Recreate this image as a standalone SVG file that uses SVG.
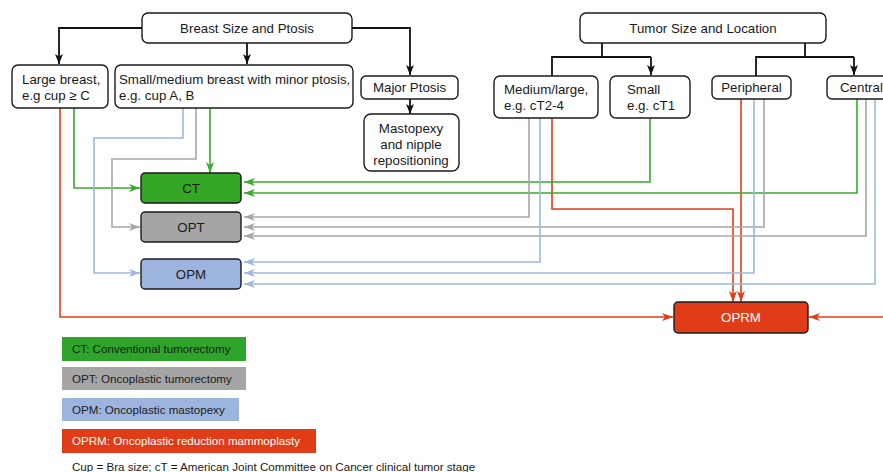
<svg xmlns="http://www.w3.org/2000/svg" width="883" height="472" viewBox="0 0 883 472">
<style>
.box{fill:#fff;stroke:#1a1a1a;stroke-width:1.4}
.t{font-family:"Liberation Sans",Arial,sans-serif;font-size:13.3px;fill:#1a1a1a}
.c{text-anchor:middle}
.lg{font-family:"Liberation Sans",Arial,sans-serif;font-size:11.6px;fill:#1a1a1a}
.k{fill:none;stroke:#111;stroke-width:1.8}
.g{fill:none;stroke:#3aaa2c;stroke-width:1.6}
.y{fill:none;stroke:#a6a6a6;stroke-width:1.6}
.b{fill:none;stroke:#9db8e0;stroke-width:1.6}
.r{fill:none;stroke:#e03c17;stroke-width:1.6}
</style>
<defs>
<marker id="ak" markerUnits="userSpaceOnUse" markerWidth="10" markerHeight="10" viewBox="0 0 10 10" refX="10" refY="5" orient="auto"><path d="M0,1 L10,5 L0,9 L2.5,5 z" fill="#111"/></marker>
<marker id="ag" markerUnits="userSpaceOnUse" markerWidth="11" markerHeight="10" viewBox="0 0 11 10" refX="11" refY="5" orient="auto"><path d="M0,1 L11,5 L0,9 L3,5 z" fill="#3aaa2c"/></marker>
<marker id="ay" markerUnits="userSpaceOnUse" markerWidth="11" markerHeight="10" viewBox="0 0 11 10" refX="11" refY="5" orient="auto"><path d="M0,1 L11,5 L0,9 L3,5 z" fill="#a6a6a6"/></marker>
<marker id="ab" markerUnits="userSpaceOnUse" markerWidth="11" markerHeight="10" viewBox="0 0 11 10" refX="11" refY="5" orient="auto"><path d="M0,1 L11,5 L0,9 L3,5 z" fill="#9db8e0"/></marker>
<marker id="ar" markerUnits="userSpaceOnUse" markerWidth="11" markerHeight="10" viewBox="0 0 11 10" refX="11" refY="5" orient="auto"><path d="M0,1 L11,5 L0,9 L3,5 z" fill="#e03c17"/></marker>
</defs>
<rect width="883" height="472" fill="#fff"/>

<g id="connectors">
<path class="k" d="M142,28 H59 V64" marker-end="url(#ak)"/>
<path class="k" d="M247,43 V64" marker-end="url(#ak)"/>
<path class="k" d="M352,28 H410 V75" marker-end="url(#ak)"/>
<path class="k" d="M410,99 V114" marker-end="url(#ak)"/>
<path class="k" d="M602,43 V57 M552,57 H651 M552,56 V76"/>
<path class="k" d="M651,57 V75" marker-end="url(#ak)"/>
<path class="k" d="M805,43 V57 M756,57 H854 M756,56 V76"/>
<path class="k" d="M854,57 V75" marker-end="url(#ak)"/>

<path class="r" d="M60,108 V317 H673" marker-end="url(#ar)"/>
<path class="r" d="M552,118 V209 H733 V302" marker-end="url(#ar)"/>
<path class="r" d="M741,99 V302" marker-end="url(#ar)"/>
<path class="r" d="M883,317 H809" marker-end="url(#ar)"/>

<path class="g" d="M74,108 V188 H140" marker-end="url(#ag)"/>
<path class="g" d="M210,108 V173" marker-end="url(#ag)"/>
<path class="g" d="M650,118 V182 H244" marker-end="url(#ag)"/>
<path class="g" d="M857,99 V193 H244" marker-end="url(#ag)"/>

<path class="y" d="M196,108 V159 H112 V227 H140" marker-end="url(#ay)"/>
<path class="y" d="M529,118 V217 H244" marker-end="url(#ay)"/>
<path class="y" d="M764,99 V227 H244" marker-end="url(#ay)"/>
<path class="y" d="M866,99 V236 H244" marker-end="url(#ay)"/>

<path class="b" d="M183,108 V138 H94 V273 H140" marker-end="url(#ab)"/>
<path class="b" d="M540,118 V262 H244" marker-end="url(#ab)"/>
<path class="b" d="M754,99 V273 H244" marker-end="url(#ab)"/>
<path class="b" d="M875,99 V284 H244" marker-end="url(#ab)"/>
</g>

<g id="breast-size">
<rect class="box" x="142" y="13" width="210" height="30" rx="6"/>
<text class="t c" x="247" y="32.5">Breast Size and Ptosis</text>
</g>
<g id="large-breast">
<rect class="box" x="12" y="65" width="96" height="43" rx="6"/>
<text class="t" x="22" y="83.5">Large breast,</text>
<text class="t" x="22" y="99.5">e.g cup ≥ C</text>
</g>
<g id="small-medium">
<rect class="box" x="115" y="65" width="238" height="43" rx="6"/>
<text class="t" x="119" y="83.5">Small/medium breast with minor ptosis,</text>
<text class="t" x="119" y="99.5">e.g. cup A, B</text>
</g>
<g id="major-ptosis">
<rect class="box" x="361" y="76" width="97" height="23" rx="5"/>
<text class="t c" x="409.5" y="92">Major Ptosis</text>
</g>
<g id="mastopexy">
<rect class="box" x="364" y="114" width="95" height="57" rx="7"/>
<text class="t c" x="411" y="132.5">Mastopexy</text>
<text class="t c" x="411" y="148.5">and nipple</text>
<text class="t c" x="411" y="164.5">repositioning</text>
</g>
<g id="tumor-size">
<rect class="box" x="580" y="13" width="246" height="30" rx="6"/>
<text class="t c" x="703" y="32.5">Tumor Size and Location</text>
</g>
<g id="medium-large">
<rect class="box" x="494" y="76" width="104" height="42" rx="6"/>
<text class="t" x="504" y="94">Medium/large,</text>
<text class="t" x="504" y="110">e.g. cT2-4</text>
</g>
<g id="small">
<rect class="box" x="610" y="76" width="80" height="42" rx="6"/>
<text class="t" x="627" y="94">Small</text>
<text class="t" x="627" y="110">e.g. cT1</text>
</g>
<g id="peripheral">
<rect class="box" x="712" y="76" width="79" height="23" rx="5"/>
<text class="t c" x="751.5" y="92">Peripheral</text>
</g>
<g id="central">
<rect class="box" x="827" y="76" width="70" height="23" rx="5"/>
<text class="t" x="840" y="92">Central</text>
</g>

<g id="ct">
<rect x="141" y="173" width="100" height="30" rx="4" fill="#33a626" stroke="#1a1a1a" stroke-width="1.4"/>
<text class="t c" x="191" y="192.5">CT</text>
</g>
<g id="opt">
<rect x="141" y="212" width="100" height="30" rx="4" fill="#a5a5a5" stroke="#1a1a1a" stroke-width="1.4"/>
<text class="t c" x="191" y="231.5">OPT</text>
</g>
<g id="opm">
<rect x="141" y="259" width="100" height="30" rx="4" fill="#9db5de" stroke="#1a1a1a" stroke-width="1.4"/>
<text class="t c" x="191" y="278.5">OPM</text>
</g>
<g id="oprm">
<rect x="674" y="302" width="134" height="31" rx="4" fill="#e03c17" stroke="#1a1a1a" stroke-width="1.4"/>
<text class="t c" x="741" y="322" style="fill:#fff">OPRM</text>
</g>

<g id="legend">
<rect x="62" y="337" width="184" height="24" fill="#2ea52a"/>
<text class="lg" x="72" y="353">CT: Conventional tumorectomy</text>
<rect x="62" y="367" width="184" height="23" fill="#a5a5a5"/>
<text class="lg" x="72" y="382.5">OPT: Oncoplastic tumorectomy</text>
<rect x="62" y="398" width="177" height="23" fill="#9db5de"/>
<text class="lg" x="72" y="413.5">OPM: Oncoplastic mastopexy</text>
<rect x="62" y="429" width="254" height="24" fill="#e03c17"/>
<text class="lg" x="72" y="445" style="fill:#fff">OPRM: Oncoplastic reduction mammoplasty</text>
<text class="lg" x="72" y="470.5">Cup = Bra size; cT = American Joint Committee on Cancer clinical tumor stage</text>
</g>
</svg>
